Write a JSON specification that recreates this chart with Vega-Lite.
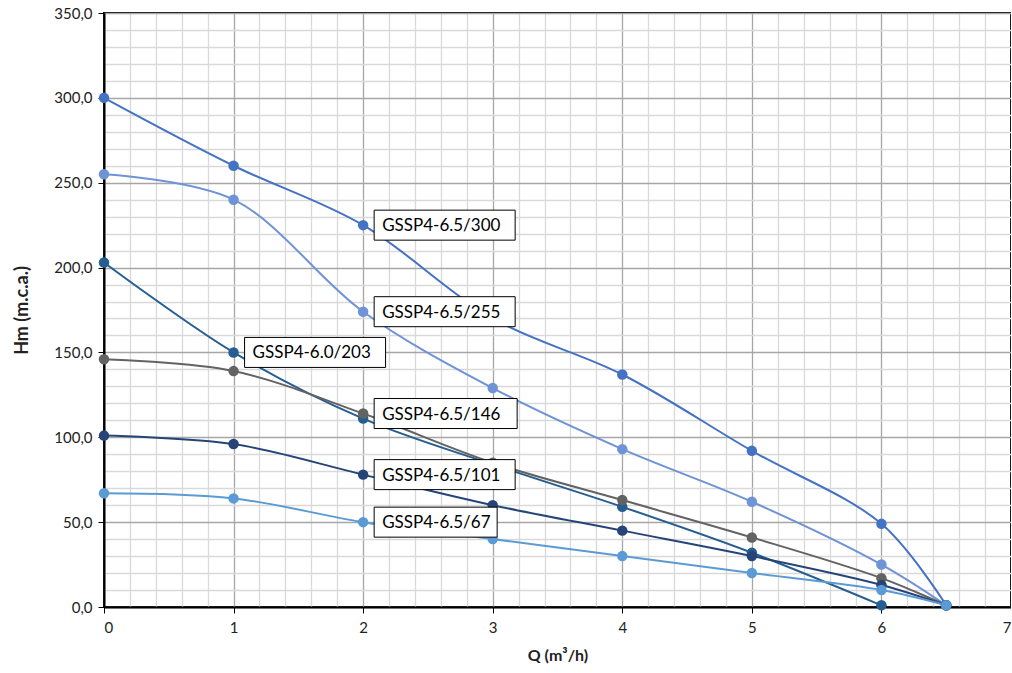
{
  "$schema": "https://vega.github.io/schema/vega-lite/v6.json",
  "width": 907,
  "height": 594,
  "autosize": "none",
  "padding": {"left": 104, "top": 13, "right": 0, "bottom": 66},
  "background": "white",
  "config": {
    "font": "Lato",
    "view": {"stroke": "black", "strokeWidth": 2},
    "axis": {"labelFont": "Lato", "titleFont": "Lato", "labelColor": "#222", "titleColor": "#222"}
  },
  "datasets": {
    "curves": [
      {"series": "GSSP4-6.5/300", "q": 0, "h": 300}, {"series": "GSSP4-6.5/300", "q": 1, "h": 260}, {"series": "GSSP4-6.5/300", "q": 2, "h": 225}, {"series": "GSSP4-6.5/300", "q": 3, "h": 170}, {"series": "GSSP4-6.5/300", "q": 4, "h": 137}, {"series": "GSSP4-6.5/300", "q": 5, "h": 92}, {"series": "GSSP4-6.5/300", "q": 6, "h": 49}, {"series": "GSSP4-6.5/300", "q": 6.5, "h": 1},
      {"series": "GSSP4-6.5/255", "q": 0, "h": 255}, {"series": "GSSP4-6.5/255", "q": 1, "h": 240}, {"series": "GSSP4-6.5/255", "q": 2, "h": 174}, {"series": "GSSP4-6.5/255", "q": 3, "h": 129}, {"series": "GSSP4-6.5/255", "q": 4, "h": 93}, {"series": "GSSP4-6.5/255", "q": 5, "h": 62}, {"series": "GSSP4-6.5/255", "q": 6, "h": 25}, {"series": "GSSP4-6.5/255", "q": 6.5, "h": 1},
      {"series": "GSSP4-6.0/203", "q": 0, "h": 203}, {"series": "GSSP4-6.0/203", "q": 1, "h": 150}, {"series": "GSSP4-6.0/203", "q": 2, "h": 111}, {"series": "GSSP4-6.0/203", "q": 3, "h": 84}, {"series": "GSSP4-6.0/203", "q": 4, "h": 59}, {"series": "GSSP4-6.0/203", "q": 5, "h": 32}, {"series": "GSSP4-6.0/203", "q": 6, "h": 1},
      {"series": "GSSP4-6.5/146", "q": 0, "h": 146}, {"series": "GSSP4-6.5/146", "q": 1, "h": 139}, {"series": "GSSP4-6.5/146", "q": 2, "h": 114}, {"series": "GSSP4-6.5/146", "q": 3, "h": 85}, {"series": "GSSP4-6.5/146", "q": 4, "h": 63}, {"series": "GSSP4-6.5/146", "q": 5, "h": 41}, {"series": "GSSP4-6.5/146", "q": 6, "h": 17}, {"series": "GSSP4-6.5/146", "q": 6.5, "h": 1},
      {"series": "GSSP4-6.5/101", "q": 0, "h": 101}, {"series": "GSSP4-6.5/101", "q": 1, "h": 96}, {"series": "GSSP4-6.5/101", "q": 2, "h": 78}, {"series": "GSSP4-6.5/101", "q": 3, "h": 60}, {"series": "GSSP4-6.5/101", "q": 4, "h": 45}, {"series": "GSSP4-6.5/101", "q": 5, "h": 30}, {"series": "GSSP4-6.5/101", "q": 6, "h": 13}, {"series": "GSSP4-6.5/101", "q": 6.5, "h": 1},
      {"series": "GSSP4-6.5/67", "q": 0, "h": 67}, {"series": "GSSP4-6.5/67", "q": 1, "h": 64}, {"series": "GSSP4-6.5/67", "q": 2, "h": 50}, {"series": "GSSP4-6.5/67", "q": 3, "h": 40}, {"series": "GSSP4-6.5/67", "q": 4, "h": 30}, {"series": "GSSP4-6.5/67", "q": 5, "h": 20}, {"series": "GSSP4-6.5/67", "q": 6, "h": 10}, {"series": "GSSP4-6.5/67", "q": 6.5, "h": 1}
    ],
    "labels": [
      {"series": "GSSP4-6.5/300", "q": 2, "h": 225},
      {"series": "GSSP4-6.5/255", "q": 2, "h": 174},
      {"series": "GSSP4-6.0/203", "q": 1, "h": 150},
      {"series": "GSSP4-6.5/146", "q": 2, "h": 114},
      {"series": "GSSP4-6.5/101", "q": 2, "h": 78},
      {"series": "GSSP4-6.5/67", "q": 2, "h": 50}
    ]
  },
  "encoding": {
    "x": {
      "field": "q", "type": "quantitative",
      "scale": {"domain": [0, 7], "nice": false, "zero": true},
      "axis": {
        "title": "Q (m³/h)", "titleFontSize": 16, "titleFontWeight": "bold", "titlePadding": 12,
        "values": [0,0.2,0.4,0.6,0.8,1,1.2,1.4,1.6,1.8,2,2.2,2.4,2.6,2.8,3,3.2,3.4,3.6,3.8,4,4.2,4.4,4.6,4.8,5,5.2,5.4,5.6,5.8,6,6.2,6.4,6.6,6.8,7],
        "labelExpr": "abs(datum.value - round(datum.value)) < 0.001 ? format(datum.value, 'd') : ''",
        "labelFontSize": 15, "labelPadding": 7,
        "grid": true,
        "gridColor": {"condition": {"test": "abs(datum.value - round(datum.value)) < 0.001", "value": "#a6a6a6"}, "value": "#d9d9d9"},
        "gridWidth": 1.3,
        "domainColor": "black", "domainWidth": 2,
        "tickColor": "black", "tickSize": 6,
        "tickOpacity": {"condition": {"test": "abs(datum.value - round(datum.value)) < 0.001", "value": 1}, "value": 0}
      }
    },
    "y": {
      "field": "h", "type": "quantitative",
      "scale": {"domain": [0, 350], "nice": false},
      "axis": {
        "title": "Hm (m.c.a.)", "titleFontSize": 18, "titleFontWeight": "bold", "titlePadding": 22,
        "values": [0,10,20,30,40,50,60,70,80,90,100,110,120,130,140,150,160,170,180,190,200,210,220,230,240,250,260,270,280,290,300,310,320,330,340,350],
        "labelExpr": "datum.value % 50 === 0 ? replace(format(datum.value, '.1f'), '.', ',') : ''",
        "labelFontSize": 15, "labelPadding": 6,
        "grid": true,
        "gridColor": {"condition": {"test": "datum.value % 50 === 0", "value": "#a6a6a6"}, "value": "#d9d9d9"},
        "gridWidth": 1.3,
        "domainColor": "black", "domainWidth": 2,
        "tickColor": "black", "tickSize": 6,
        "tickOpacity": {"condition": {"test": "datum.value % 50 === 0", "value": 1}, "value": 0}
      }
    },
    "color": {
      "field": "series", "type": "nominal", "legend": null,
      "scale": {
        "domain": ["GSSP4-6.5/300", "GSSP4-6.5/255", "GSSP4-6.0/203", "GSSP4-6.5/146", "GSSP4-6.5/101", "GSSP4-6.5/67"],
        "range": ["#4472C4", "#6E93D6", "#255E91", "#636363", "#264478", "#5B9BD5"]
      }
    }
  },
  "layer": [
    {
      "data": {"name": "curves"},
      "mark": {"type": "line", "interpolate": "catmull-rom", "strokeWidth": 2}
    },
    {
      "data": {"name": "curves"},
      "mark": {"type": "point", "filled": true, "opacity": 1, "size": 110}
    },
    {
      "data": {"name": "labels"},
      "mark": {"type": "point", "filled": false, "fill": "white", "fillOpacity": 1, "stroke": "black", "strokeWidth": 1, "opacity": 1, "size": 4},
      "encoding": {
        "color": {"value": "black"},
        "shape": {
          "field": "series", "type": "nominal", "legend": null,
          "scale": {
            "domain": ["GSSP4-6.5/300", "GSSP4-6.5/255", "GSSP4-6.0/203", "GSSP4-6.5/146", "GSSP4-6.5/101", "GSSP4-6.5/67"],
            "range": ["M11,-15H152V15H11Z", "M11,-15H152V15H11Z", "M11,-15H152V15H11Z", "M11,-15H154V15H11Z", "M11,-15H152V15H11Z", "M11,-15H134V15H11Z"]
          }
        }
      }
    },
    {
      "data": {"name": "labels"},
      "mark": {"type": "text", "align": "left", "baseline": "middle", "dx": 19, "dy": 1, "fontSize": 17, "font": "Lato"},
      "encoding": {
        "text": {"field": "series"},
        "color": {"value": "black"}
      }
    }
  ]
}
